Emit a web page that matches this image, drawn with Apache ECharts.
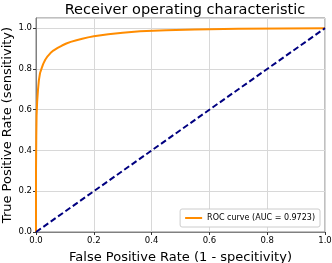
<!DOCTYPE html>
<html><head><meta charset="utf-8">
<script src="https://cdn.jsdelivr.net/npm/echarts@6/dist/echarts.min.js"></script>
<style>html,body{margin:0;padding:0;background:#fff}#c{width:332px;height:263px}</style>
</head><body><div id="c"></div>
<script>
const rocFpr = [0, 0, 0.001, 0.002, 0.004, 0.007, 0.010, 0.014, 0.020, 0.025, 0.032, 0.040, 0.050, 0.060, 0.075, 0.090, 0.105, 0.120, 0.140, 0.160, 0.180, 0.200, 0.250, 0.300, 0.360, 0.450, 0.550, 0.700, 0.850, 1.0];
const rocTpr = [0, 0.30, 0.47, 0.57, 0.64, 0.70, 0.745, 0.78, 0.805, 0.825, 0.845, 0.862, 0.878, 0.890, 0.903, 0.915, 0.925, 0.933, 0.941, 0.948, 0.955, 0.960, 0.970, 0.978, 0.985, 0.990, 0.994, 0.997, 0.999, 1.0];
const diagX = [0, 1];
const diagY = [0, 1];
const xTicks = [0, 0.2, 0.4, 0.6, 0.8, 1.0];
const yTicks = [0, 0.2, 0.4, 0.6, 0.8, 1.0];
const legendLabel = 'ROC curve (AUC = 0.9723)';

const chart = echarts.init(document.getElementById('c'), null, {renderer: 'canvas'});
const font = 'DejaVu Sans';
const fmt = v => (xTicks.concat(yTicks).some(t => Math.abs(t - v) < 1e-9)) ? v.toFixed(1) : '';
chart.setOption({
  animation: false,
  title: {text: 'Receiver operating characteristic', left: 180, top: -2, textAlign: 'center',
    textStyle: {fontFamily: font, fontSize: 14.5, fontWeight: 'normal', color: '#000'}},
  grid: {left: 36, right: 7, top: 18, bottom: 31, show: true, borderColor: '#808080', borderWidth: 1,
    containLabel: false, outerBoundsMode: 'none'},
  legend: {right: 12, bottom: 36, orient: 'horizontal', data: [{name: legendLabel, icon: 'rect'}],
    itemWidth: 17, itemHeight: 2, itemGap: 5, padding: [5, 5, 5, 5],
    borderColor: '#cccccc', borderWidth: 1, borderRadius: 2, backgroundColor: '#fff',
    textStyle: {fontFamily: font, fontSize: 8, color: '#000'}},
  xAxis: {type: 'value', min: 0, max: 1, interval: 0.2,
    name: 'False Positive Rate (1 - specitivity)', nameLocation: 'middle', nameGap: 19, nameMoveOverlap: false,
    nameTextStyle: {fontFamily: font, fontSize: 13, color: '#000'},
    axisLine: {show: true, lineStyle: {color: '#808080', width: 1}},
    axisTick: {show: true, length: 3, lineStyle: {color: '#333'}},
    axisLabel: {fontFamily: font, fontSize: 8.5, color: '#000', margin: 4, formatter: fmt},
    splitLine: {show: true, lineStyle: {color: '#d8d8d8', width: 1}}},
  yAxis: {type: 'value', min: 0, max: 1.05, interval: 0.2,
    name: 'True Positive Rate (sensitivity)', nameLocation: 'middle', nameGap: 22, nameMoveOverlap: false,
    nameTextStyle: {fontFamily: font, fontSize: 13, color: '#000'},
    axisLine: {show: true, lineStyle: {color: '#808080', width: 1}},
    axisTick: {show: true, length: 3, lineStyle: {color: '#333'}},
    axisLabel: {fontFamily: font, fontSize: 8.5, color: '#000', margin: 4, formatter: fmt, showMaxLabel: false},
    splitLine: {show: true, lineStyle: {color: '#d8d8d8', width: 1}}},
  series: [
    {name: legendLabel, type: 'line', showSymbol: false, smooth: false,
      data: rocFpr.map((x, i) => [x, rocTpr[i]]),
      lineStyle: {color: '#ff8c00', width: 2}, itemStyle: {color: '#ff8c00'}},
    {name: 'diag', type: 'line', showSymbol: false,
      data: diagX.map((x, i) => [x, diagY[i]]),
      lineStyle: {color: '#000080', width: 2, type: [6, 3]}, itemStyle: {color: '#000080'}}
  ]
});
</script></body></html>
